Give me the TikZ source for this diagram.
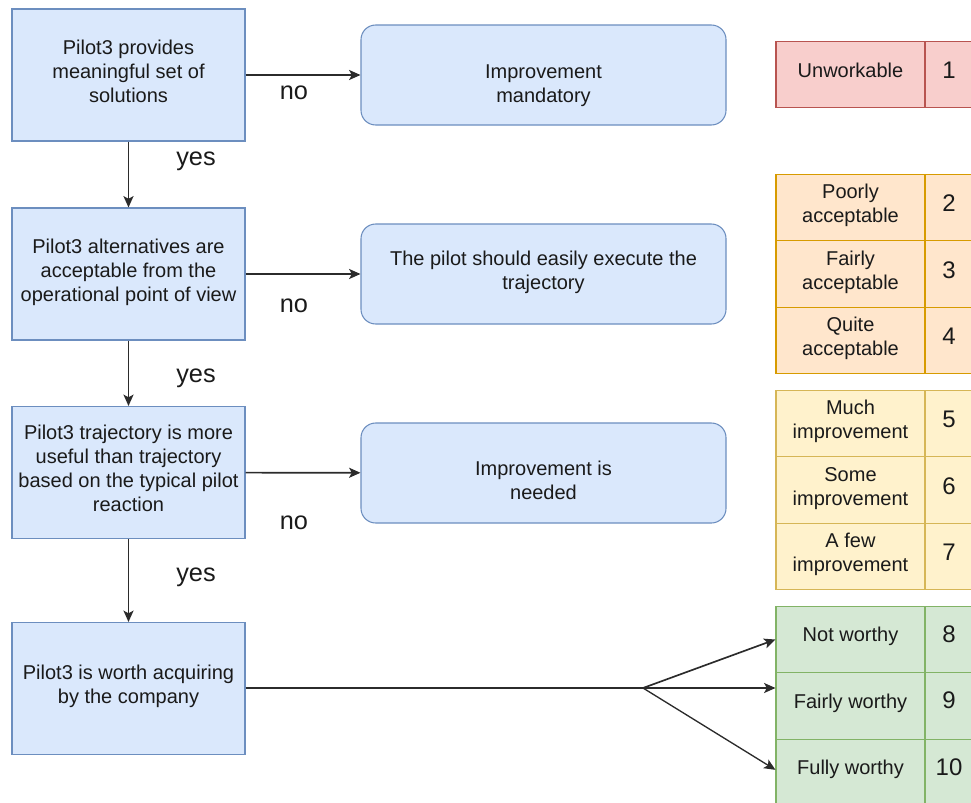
\documentclass[tikz,border=0pt]{standalone}
\usepackage{fontspec}
\setmainfont{Liberation Sans}
\usetikzlibrary{arrows.meta}

\definecolor{bfill}{HTML}{DAE8FC}
\definecolor{bline}{HTML}{6C8EBF}
\definecolor{rfill}{HTML}{F8CECC}
\definecolor{rline}{HTML}{B85450}
\definecolor{ofill}{HTML}{FFE6CC}
\definecolor{oline}{HTML}{D79B00}
\definecolor{yfill}{HTML}{FFF2CC}
\definecolor{yline}{HTML}{D6B656}
\definecolor{gfill}{HTML}{D5E8D4}
\definecolor{gline}{HTML}{82B366}
\definecolor{ink}{HTML}{1A1A1A}
\definecolor{wire}{HTML}{2B2B2B}

% centred lines of text, lifted by #1 without changing the box size
\newcommand\lift[2]{\raisebox{#1}[\height][\depth]{\begin{tabular}{@{}c@{}}#2\end{tabular}}}

\begin{document}
\begin{tikzpicture}[x=0.75pt,y=-0.75pt,
  txt/.style={text=ink, inner sep=0pt, font=\fontsize{15}{18}\selectfont},
  decision/.style={txt, draw=bline, fill=bfill, line width=0.8pt,
    minimum width=174.75pt, minimum height=99pt},
  outcome/.style={txt, draw=bline, fill=bfill, line width=0.8pt, rounded corners=11pt,
    minimum width=273.75pt, minimum height=75pt},
  cell/.style={txt, line width=0.8pt, minimum width=111.75pt, minimum height=50pt},
  num/.style={line width=0.8pt, text=ink, inner sep=0pt, font=\fontsize{18}{20}\selectfont,
    minimum width=36pt, minimum height=50pt},
  lbl/.style={text=ink, inner sep=0pt, font=\fontsize{19}{22}\selectfont},
  flow/.style={draw=wire, line width=1.25pt, -{Stealth[length=8.5pt,width=7.5pt,inset=2pt]}},
  plain/.style={draw=wire, line width=1.25pt},
]
\useasboundingbox (0,0) rectangle (971,803);

% decision column
\node[decision] (d1) at (128.5,75)  {\lift{1.2pt}{Pilot3 provides\\meaningful set of\\solutions}};
\node[decision] (d2) at (128.5,274) {\lift{1.2pt}{Pilot3 alternatives are\\acceptable from the\\operational point of view}};
\node[decision] (d3) at (128.5,472.5) {\lift{1.2pt}{Pilot3 trajectory is more\\useful than trajectory\\based on the typical pilot\\reaction}};
\node[decision] (d4) at (128.5,688.5) {\lift{1.2pt}{Pilot3 is worth acquiring\\by the company}};

% outcomes
\node[outcome] (o1) at (543.5,75)  {\lift{-7.9pt}{Improvement\\mandatory}};
\node[outcome] (o2) at (543.5,274) {\lift{0.8pt}{The pilot should easily execute the\\trajectory}};
\node[outcome] (o3) at (543.5,473) {\lift{-7.5pt}{Improvement is\\needed}};

% rating scale
\node[cell, draw=rline, fill=rfill] (c1) at (850.5,74.5) {\lift{1.5pt}{Unworkable}};
\node[num,  draw=rline, fill=rfill] (n1) at (949,74.5) {\lift{0.8pt}{1}};

\node[cell, draw=oline, fill=ofill] (c2) at (850.5,207.5) {\lift{1.2pt}{Poorly\\acceptable}};
\node[num,  draw=oline, fill=ofill] (n2) at (949,207.5) {\lift{0.8pt}{2}};
\node[cell, draw=oline, fill=ofill] (c3) at (850.5,274) {\lift{1.2pt}{Fairly\\acceptable}};
\node[num,  draw=oline, fill=ofill] (n3) at (949,274) {\lift{0.8pt}{3}};
\node[cell, draw=oline, fill=ofill] (c4) at (850.5,340.5) {\lift{1.2pt}{Quite\\acceptable}};
\node[num,  draw=oline, fill=ofill] (n4) at (949,340.5) {\lift{0.8pt}{4}};

\node[cell, draw=yline, fill=yfill] (c5) at (850.5,423.5) {\lift{1.2pt}{Much\\improvement}};
\node[num,  draw=yline, fill=yfill] (n5) at (949,423.5) {\lift{0.8pt}{5}};
\node[cell, draw=yline, fill=yfill] (c6) at (850.5,490) {\lift{1.2pt}{Some\\improvement}};
\node[num,  draw=yline, fill=yfill] (n6) at (949,490) {\lift{0.8pt}{6}};
\node[cell, draw=yline, fill=yfill] (c7) at (850.5,556.5) {\lift{1.2pt}{A few\\improvement}};
\node[num,  draw=yline, fill=yfill] (n7) at (949,556.5) {\lift{0.8pt}{7}};

\node[cell, draw=gline, fill=gfill] (c8) at (850.5,639.5) {\lift{2pt}{Not worthy}};
\node[num,  draw=gline, fill=gfill] (n8) at (949,639.5) {\lift{2pt}{8}};
\node[cell, draw=gline, fill=gfill] (c9) at (850.5,706) {\lift{2pt}{Fairly worthy}};
\node[num,  draw=gline, fill=gfill] (n9) at (949,706) {\lift{2pt}{9}};
\node[cell, draw=gline, fill=gfill] (c10) at (850.5,772.5) {\lift{2pt}{Fully worthy}};
\node[num,  draw=gline, fill=gfill] (n10) at (949,772.5) {\lift{2pt}{10}};

% yes / no connectors
\draw[flow] (d1) -- (o1);
\draw[flow] (d2) -- (o2);
\draw[flow] (d3) -- (o3);
\draw[flow] (d1) -- (d2);
\draw[flow] (d2) -- (d3);
\draw[flow] (d3) -- (d4);

\node[lbl] (no1) at (294,93)  {no};
\node[lbl] (no2) at (294,306) {no};
\node[lbl] (no3) at (294,523) {no};
\node[lbl] (yes1) at (196,161) {yes};
\node[lbl] (yes2) at (196,378) {yes};
\node[lbl] (yes3) at (196,577) {yes};

% fan-out to the worthiness scale
\coordinate (fork) at (643,688);
\draw[plain] (d4.east |- fork) -- (fork);
\draw[flow] (fork) -- (c8.west);
\draw[flow] (fork) -- (c9.west |- fork);
\draw[flow, line width=1pt] (fork) -- ([yshift=2pt]c10.west);
\end{tikzpicture}
\end{document}
